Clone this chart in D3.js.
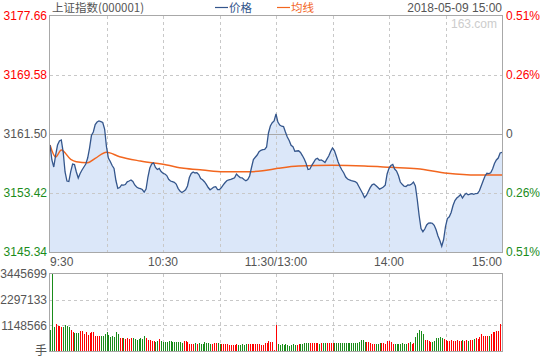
<!DOCTYPE html>
<html>
<head>
<meta charset="utf-8">
<script src="https://cdn.jsdelivr.net/npm/d3@7"></script>
<style>
  body { margin: 0; background: #fff; }
  svg text { font-family: "Liberation Sans", Arial, sans-serif; font-size: 12px; }
  .cjk { font-family: "Noto Sans CJK SC", sans-serif; }
</style>
</head>
<body>
<div id="chart"></div>
<script>
// price per minute, 9:30 .. 11:30 (0-120), 13:01 .. 15:00 (121-240)
const prices = [
  3159.99,3157.94,3156.98,3158.62,3159.99,3160.54,3160.68,3159.03,3156.30,3155.06,
  3154.99,3156.34,3157.39,3157.32,3156.30,3155.47,3156.09,3156.57,3156.98,3157.39,
  3158.21,3159.58,3161.29,3161.77,3162.80,3163.14,3163.28,3163.20,3163.08,3162.18,
  3159.72,3158.21,3157.73,3157.18,3156.78,3155.13,3154.06,3154.17,3154.52,3154.50,
  3154.58,3154.95,3155.06,3155.20,3154.99,3154.52,3154.24,3154.10,3154.03,3153.90,
  3153.55,3153.97,3155.61,3156.84,3157.39,3157.55,3156.91,3156.64,3156.78,3156.36,
  3156.12,3156.02,3155.81,3155.29,3155.06,3154.97,3154.88,3154.65,3154.06,3153.69,
  3153.49,3153.65,3153.86,3154.38,3155.54,3156.09,3156.30,3156.16,3156.20,3155.95,
  3155.40,3155.24,3154.97,3154.61,3154.17,3153.86,3154.03,3154.24,3154.28,3153.90,
  3153.89,3154.17,3154.54,3154.86,3155.13,3155.23,3155.29,3155.40,3155.50,3156.02,
  3155.75,3155.54,3155.50,3155.27,3155.10,3155.27,3155.75,3156.91,3158.01,3158.31,
  3158.62,3159.08,3159.27,3159.35,3159.40,3159.72,3161.64,3162.60,3163.05,3163.28,
  3164.24,
  3163.14,3162.73,3162.57,3162.51,3161.77,3161.09,3160.61,3159.95,3159.77,3159.13,
  3159.17,3159.20,3158.97,3158.55,3158.07,3157.46,3156.64,3156.70,3157.21,3157.62,
  3158.05,3158.16,3157.90,3157.95,3157.80,3157.60,3158.05,3158.49,3159.10,3159.58,
  3159.24,3158.49,3157.66,3157.05,3156.57,3156.16,3155.61,3155.34,3155.23,3155.13,
  3155.06,3154.99,3154.79,3154.31,3153.83,3153.35,3152.80,3153.08,3153.62,3154.15,
  3154.54,3154.65,3154.45,3154.20,3153.94,3154.08,3154.24,3154.49,3156.02,3156.80,
  3157.18,3157.32,3156.70,3156.43,3155.81,3154.92,3154.61,3154.35,3154.31,3154.52,
  3154.50,3154.65,3154.92,3154.38,3152.53,3150.34,3148.54,3148.12,3148.49,3149.04,
  3149.31,3149.34,3149.28,3149.00,3148.38,3147.53,3146.92,3146.13,3147.05,3148.83,
  3149.93,3150.16,3150.75,3151.71,3152.39,3152.73,3152.95,3153.21,3152.73,3153.14,
  3153.38,3153.18,3153.28,3153.34,3153.24,3153.35,3153.38,3153.72,3154.42,3155.09,
  3155.75,3156.12,3156.08,3156.19,3156.70,3157.46,3157.94,3158.21,3158.90,3158.97
];

// average price line (均线), read at these minutes
const avgMinutes = [0,3,6,11,14,20,24,30,37,48,62,71,81,92,106,113,121,132,150,167,181,195,211,227,240];
const avgPrices = [3159.99,3158.35,3159.31,3158.03,3157.71,3157.57,3158.17,3158.99,3158.39,3157.80,
  3157.25,3156.80,3156.57,3156.34,3156.34,3156.47,3156.80,3157.12,3157.21,3157.12,
  3156.94,3156.75,3156.12,3155.88,3155.88];

// volume per minute (手)
const volumes = [
  930000,3445699,1080000,1200000,1130000,1110000,1080000,1080000,1160000,1130000,
  1080000,930000,860000,810000,810000,810000,890000,890000,780000,860000,
  710000,810000,840000,840000,660000,660000,690000,690000,660000,750000,
  840000,710000,630000,660000,630000,840000,750000,600000,600000,600000,
  540000,570000,540000,590000,590000,540000,510000,540000,570000,540000,
  660000,600000,510000,480000,440000,440000,420000,450000,540000,440000,
  420000,420000,420000,440000,440000,420000,410000,390000,410000,390000,
  360000,440000,440000,420000,330000,320000,330000,350000,330000,350000,
  330000,330000,410000,350000,360000,330000,330000,360000,350000,350000,
  330000,320000,300000,300000,330000,290000,290000,290000,290000,300000,
  290000,290000,320000,290000,320000,320000,320000,320000,320000,320000,
  320000,320000,290000,290000,350000,380000,440000,410000,410000,60000,
  1160000,
  300000,290000,300000,280000,300000,290000,240000,290000,300000,280000,
  290000,300000,330000,330000,360000,370000,350000,360000,380000,360000,
  350000,360000,330000,350000,350000,350000,360000,350000,350000,350000,
  350000,350000,350000,350000,350000,350000,350000,340000,350000,340000,
  350000,360000,380000,410000,470000,470000,420000,410000,390000,360000,
  300000,300000,300000,310000,360000,360000,360000,330000,440000,440000,
  410000,300000,300000,300000,300000,300000,360000,330000,300000,380000,
  390000,330000,360000,620000,820000,930000,890000,780000,500000,480000,
  450000,410000,410000,440000,560000,600000,630000,560000,530000,510000,
  450000,450000,470000,450000,450000,470000,450000,430000,470000,440000,
  500000,450000,510000,480000,540000,560000,540000,630000,750000,660000,
  660000,690000,660000,750000,870000,860000,900000,900000,1200000,30000
];

const prevClose = 3161.50;
const priceTicks = [3145.34, 3153.42, 3161.50, 3169.58, 3177.66];
const pctLabels = ["0.51%", "0.26%", "0", "0.26%", "0.51%"];
const volTicks = [0, 1148566, 2297133, 3445699];
const timeTicks = [0, 60, 120, 180, 240];
const timeLabels = ["9:30", "10:30", "11:30/13:00", "14:00", "15:00"];
const gridMinutes = [30, 60, 90, 120, 150, 180, 210];
const legendNames = ["价格", "均线"];

const W = 540, H = 360;
const left = 50, right = 502;
const pTop = 16, pBottom = 252;
const vTop = 274, vBottom = 351;

const RED = "#ff0000", GREEN = "#1a8c1a", GRAY = "#555555";
const PRICE_COLOR = "#34568c", AVG_COLOR = "#f2661f";

const svg = d3.select("#chart").append("svg")
  .attr("width", W).attr("height", H);

const x = d3.scaleLinear().domain([0, 240]).range([left, right]);
const y = d3.scaleLinear().domain([priceTicks[0], priceTicks[4]]).range([pBottom, pTop]);
const yv = d3.scaleLinear().domain([0, volTicks[3]]).range([vBottom, vTop]);

const tickColor = v => v > prevClose ? RED : (v < prevClose ? GREEN : GRAY);

// ---- price panel ----
svg.append("path")
  .datum(prices)
  .attr("fill", "#dbe7f9")
  .attr("d", d3.area().x((d, i) => x(i)).y0(pBottom).y1(d => y(d)));

// grid
svg.append("g").selectAll("line")
  .data(priceTicks.filter(v => v !== prevClose && v !== priceTicks[0] && v !== priceTicks[4]))
  .enter().append("line")
  .attr("x1", left).attr("x2", right)
  .attr("y1", d => Math.round(y(d)) + 0.5).attr("y2", d => Math.round(y(d)) + 0.5)
  .attr("stroke", "#c8c8c8").attr("stroke-dasharray", "3,3");

svg.append("g").selectAll("line")
  .data(gridMinutes)
  .enter().append("line")
  .attr("x1", d => Math.round(x(d)) + 0.5).attr("x2", d => Math.round(x(d)) + 0.5)
  .attr("y1", pTop).attr("y2", pBottom)
  .attr("stroke", "#c8c8c8").attr("stroke-dasharray", "3,3");

svg.append("line")
  .attr("x1", left).attr("x2", right)
  .attr("y1", Math.round(y(prevClose)) + 0.5).attr("y2", Math.round(y(prevClose)) + 0.5)
  .attr("stroke", "#a8a8a8");

// average line
svg.append("path")
  .datum(avgMinutes.map((m, i) => [m, avgPrices[i]]))
  .attr("fill", "none")
  .attr("stroke", AVG_COLOR)
  .attr("stroke-width", 1.5)
  .attr("d", d3.line().x(d => x(d[0])).y(d => y(d[1])).curve(d3.curveMonotoneX));

// price line
svg.append("path")
  .datum(prices)
  .attr("fill", "none")
  .attr("stroke", PRICE_COLOR)
  .attr("stroke-width", 1.3)
  .attr("d", d3.line().x((d, i) => x(i)).y(d => y(d)));

svg.append("rect")
  .attr("x", left - 0.5).attr("y", pTop - 0.5)
  .attr("width", right - left + 1).attr("height", pBottom - pTop + 1)
  .attr("fill", "none").attr("stroke", "#a8a8a8");

// watermark
svg.append("text")
  .attr("x", right - 5).attr("y", 28)
  .attr("text-anchor", "end")
  .attr("fill", "#cccccc")
  .text("163.com");

// price labels left / percent labels right
svg.append("g").selectAll("text")
  .data(priceTicks)
  .enter().append("text")
  .attr("x", 47).attr("y", d => y(d))
  .attr("dy", "0.35em")
  .attr("text-anchor", "end")
  .attr("fill", d => tickColor(d))
  .text(d => d.toFixed(2));

svg.append("g").selectAll("text")
  .data(priceTicks)
  .enter().append("text")
  .attr("x", 506).attr("y", d => y(d))
  .attr("dy", "0.35em")
  .attr("fill", d => tickColor(d))
  .text((d, i) => pctLabels[i]);

// time labels
svg.append("g").selectAll("text")
  .data(timeTicks)
  .enter().append("text")
  .attr("x", d => x(d)).attr("y", 262)
  .attr("dy", "0.35em")
  .attr("text-anchor", (d, i) => i === 0 ? "start" : (i === timeTicks.length - 1 ? "end" : "middle"))
  .attr("fill", GRAY)
  .text((d, i) => timeLabels[i]);

// ---- volume panel ----
svg.append("g").selectAll("line")
  .data(volTicks.slice(1, 3))
  .enter().append("line")
  .attr("x1", left).attr("x2", right)
  .attr("y1", d => Math.round(yv(d)) + 0.5).attr("y2", d => Math.round(yv(d)) + 0.5)
  .attr("stroke", "#c8c8c8").attr("stroke-dasharray", "3,3");

svg.append("g").selectAll("line")
  .data(gridMinutes)
  .enter().append("line")
  .attr("x1", d => Math.round(x(d)) + 0.5).attr("x2", d => Math.round(x(d)) + 0.5)
  .attr("y1", vTop).attr("y2", vBottom)
  .attr("stroke", "#c8c8c8").attr("stroke-dasharray", "3,3");

svg.append("g").selectAll("rect")
  .data(volumes)
  .enter().append("rect")
  .attr("x", (d, i) => x(i))
  .attr("width", 1)
  .attr("y", d => yv(d))
  .attr("height", d => vBottom - yv(d))
  .attr("shape-rendering", "crispEdges")
  .attr("fill", (d, i) => prices[i] >= (i === 0 ? prevClose : prices[i - 1]) ? RED : GREEN);

svg.append("rect")
  .attr("x", left - 0.5).attr("y", vTop - 0.5)
  .attr("width", right - left + 1).attr("height", vBottom - vTop + 1)
  .attr("fill", "none").attr("stroke", "#a8a8a8");

svg.append("g").selectAll("text")
  .data(volTicks)
  .enter().append("text")
  .attr("class", d => d === 0 ? "cjk" : null)
  .attr("x", 47).attr("y", d => yv(d))
  .attr("dy", "0.35em")
  .attr("text-anchor", "end")
  .attr("fill", GRAY)
  .text(d => d === 0 ? "手" : d);

// ---- header ----
svg.append("text")
  .attr("class", "cjk")
  .attr("x", 52).attr("y", 12)
  .style("font-size", "11.5px")
  .attr("fill", GRAY)
  .text("上证指数(000001)");

// legend: line swatch + name
const legend = svg.append("g").selectAll("g")
  .data(legendNames)
  .enter().append("g")
  .attr("transform", (d, i) => `translate(${215 + i * 62}, 0)`);

legend.append("line")
  .attr("x1", 0).attr("x2", 13)
  .attr("y1", 7.5).attr("y2", 7.5)
  .attr("stroke", (d, i) => i === 0 ? PRICE_COLOR : AVG_COLOR)
  .attr("stroke-width", 1.2);

legend.append("text")
  .attr("class", "cjk")
  .attr("x", 14).attr("y", 12)
  .style("font-size", "11.5px")
  .attr("fill", (d, i) => i === 0 ? PRICE_COLOR : AVG_COLOR)
  .text(d => d);

svg.append("text")
  .attr("x", right).attr("y", 12)
  .attr("text-anchor", "end")
  .attr("fill", GRAY)
  .text("2018-05-09 15:00");
</script>
</body>
</html>
